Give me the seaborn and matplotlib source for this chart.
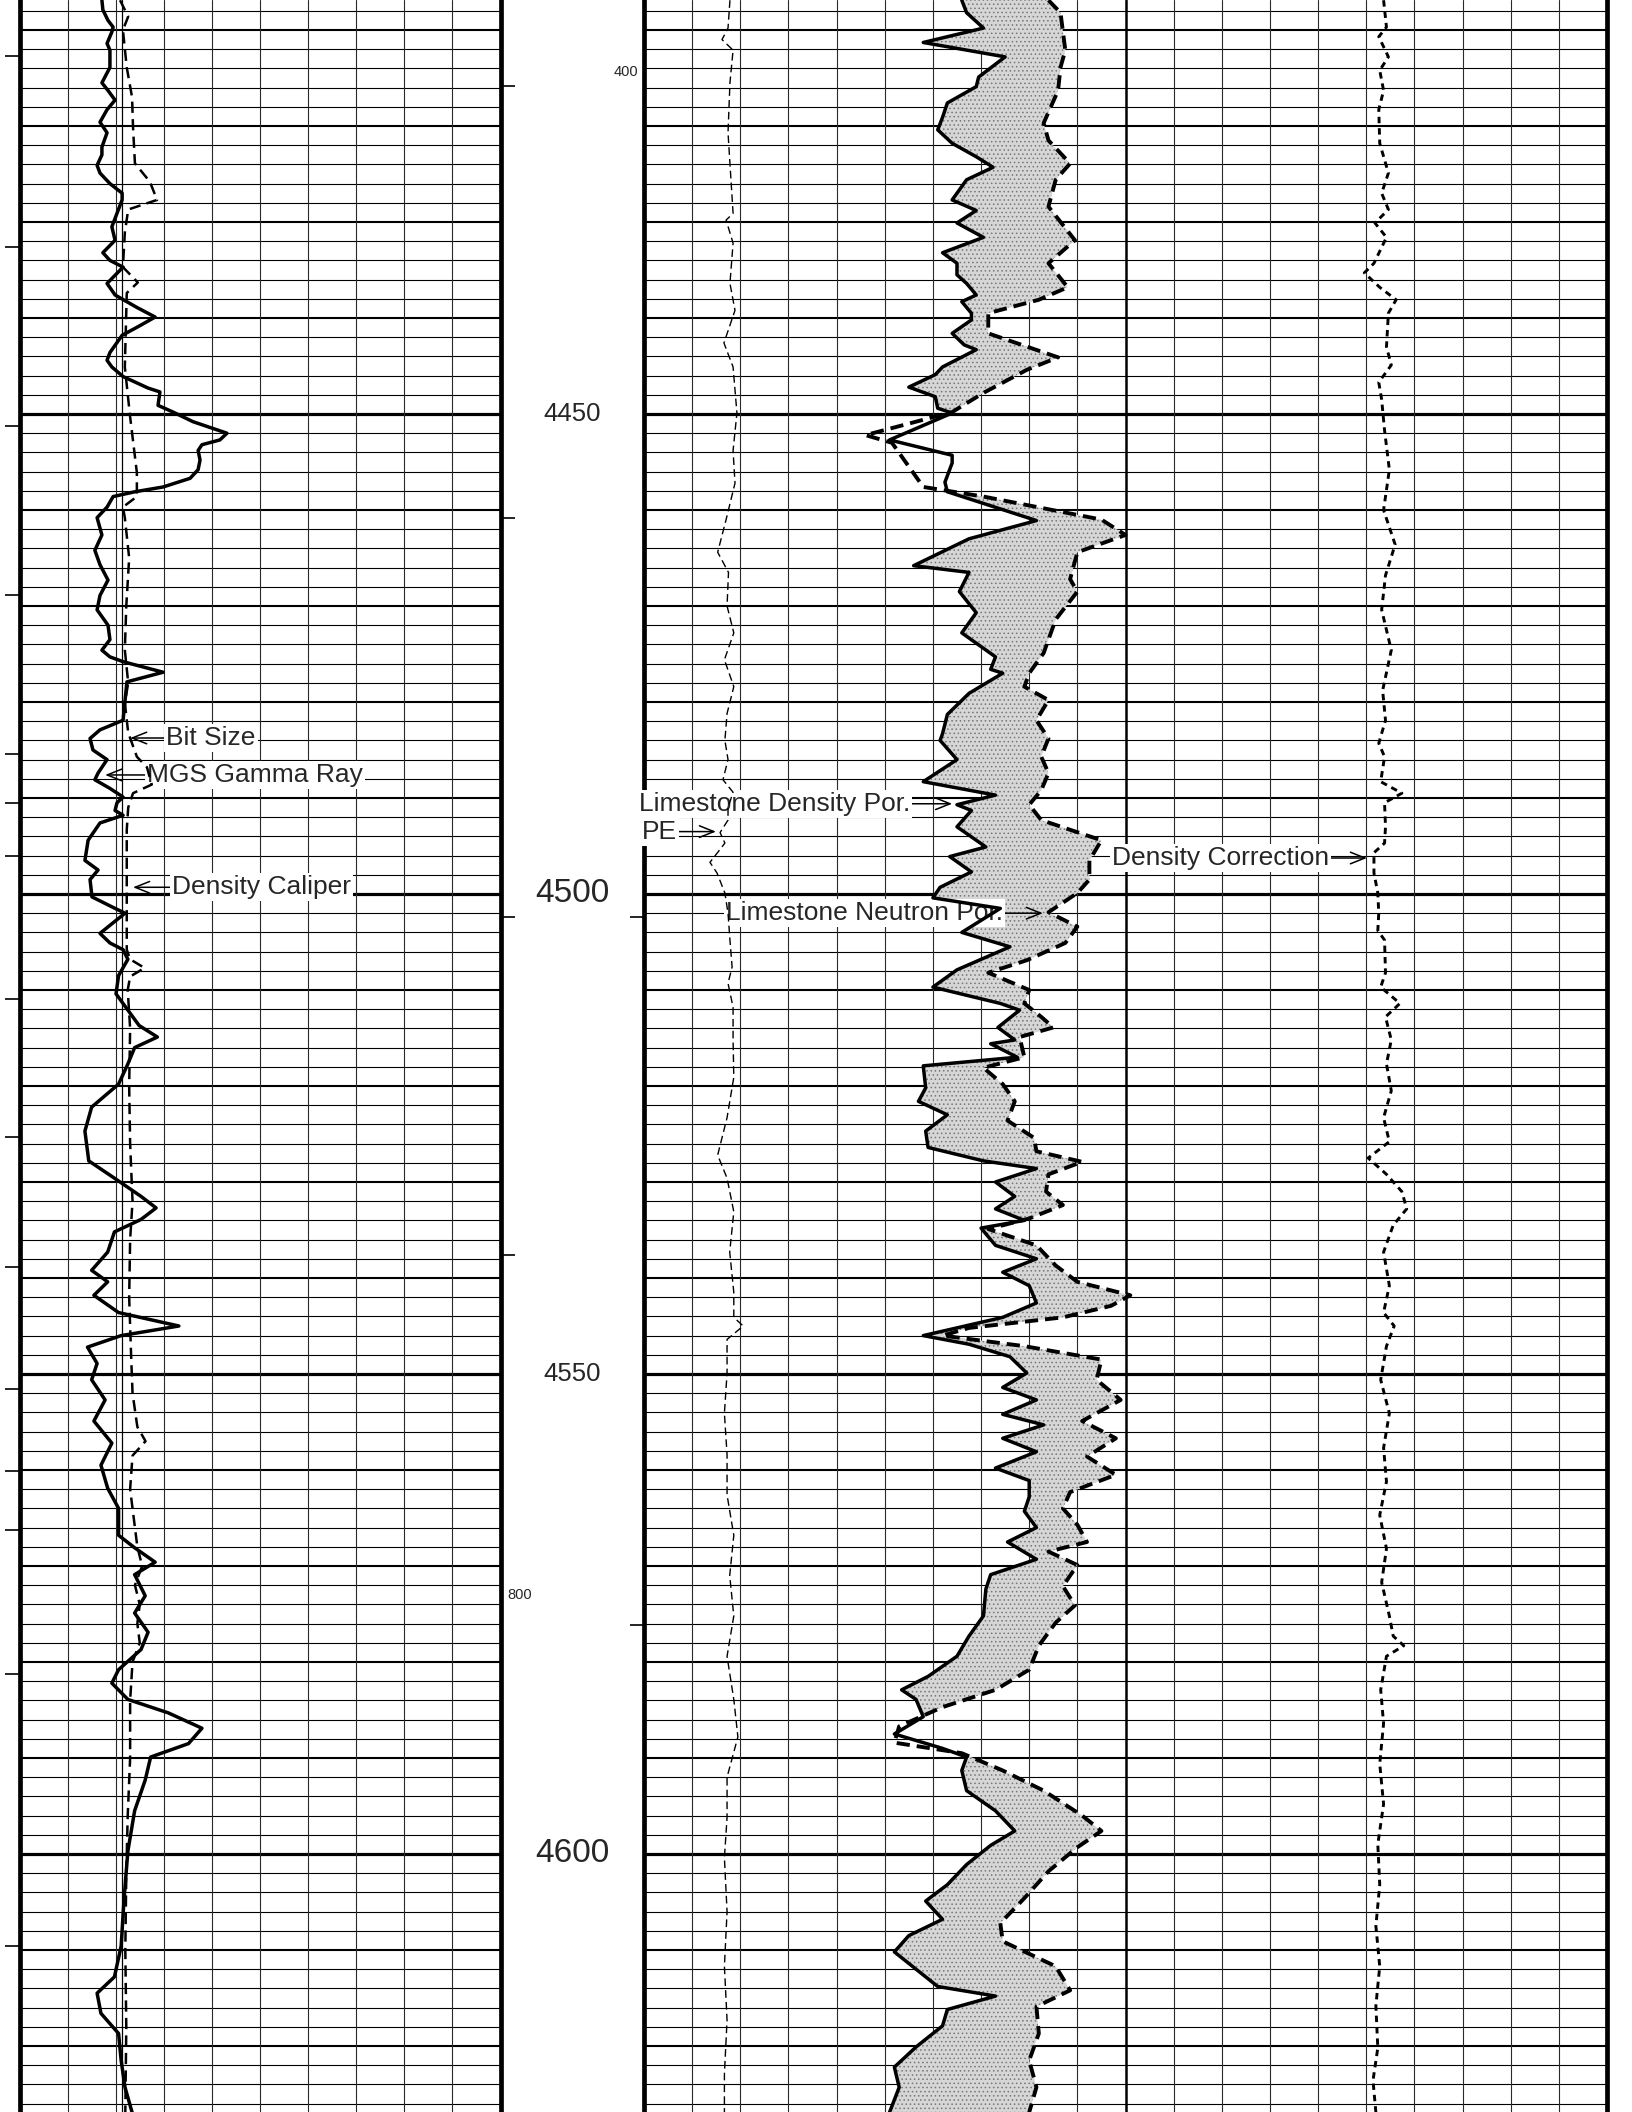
import numpy as np
import matplotlib
matplotlib.use("Agg")
import matplotlib.pyplot as plt
import seaborn as sns

sns.set_theme(style="white")
plt.rcParams["font.family"] = ["Liberation Sans", "DejaVu Sans"]
plt.rcParams["hatch.linewidth"] = 0.6

TOP, BASE = 4406.875, 4626.875

# ---------------- Track 1: gamma ray (API) ----------------
gr_depth = [4406.9, 4407.9, 4409.0, 4409.7, 4410.2, 4411.4, 4412.1, 4413.9, 4415.5, 4416.3,
            4417.3, 4418.3, 4419.6, 4420.7, 4422.2, 4423.0, 4424.1, 4424.9, 4426.0, 4427.0,
            4427.7, 4429.1, 4430.5, 4431.9, 4433.2, 4434.0, 4434.7, 4436.4, 4437.6, 4438.9,
            4439.9, 4440.9, 4441.8, 4443.6, 4444.4, 4445.1, 4446.1, 4447.3, 4447.7, 4449.1,
            4449.8, 4450.8, 4452.0, 4452.7, 4453.2, 4453.8, 4454.8, 4455.8, 4456.7, 4457.6,
            4458.1, 4458.6, 4459.7, 4460.8, 4462.6, 4464.2, 4465.7, 4467.3, 4468.9, 4470.4,
            4472.0, 4473.5, 4474.6, 4475.3, 4475.8, 4476.9, 4477.9, 4481.9, 4482.9, 4483.8,
            4485.0, 4486.0, 4487.4, 4488.1, 4489.0, 4489.9, 4490.5, 4491.3, 4491.8, 4492.6,
            4494.4, 4496.5, 4497.5, 4498.5, 4500.3, 4501.4, 4502.0, 4503.0, 4504.1, 4505.1,
            4505.8, 4506.8, 4508.5, 4510.4, 4512.1, 4513.7, 4514.9, 4516.0, 4517.7, 4519.8,
            4522.2, 4524.7, 4527.8, 4529.6, 4531.5, 4532.7, 4533.9, 4535.2, 4537.3, 4539.2,
            4540.4, 4541.8, 4543.6, 4545.0, 4546.0, 4547.2, 4548.9, 4550.6, 4552.7, 4554.9,
            4557.2, 4559.5, 4561.9, 4564.0, 4566.8, 4568.1, 4569.6, 4570.9, 4573.1, 4574.9,
            4576.9, 4578.7, 4580.8, 4582.2, 4583.9, 4585.3, 4586.9, 4588.5, 4589.9, 4592.3,
            4595.5, 4599.7, 4604.7, 4609.6, 4612.8, 4614.5, 4616.6, 4618.7, 4621.5, 4624.3,
            4626.9]
gr_api = [25.7, 26.0, 27.6, 29.2, 28.8, 27.3, 28.2, 28.2, 25.7, 27.6,
          29.8, 27.3, 25.1, 27.3, 25.7, 25.7, 24.2, 25.1, 28.2, 32.0,
          32.0, 30.4, 28.8, 29.8, 26.0, 28.2, 32.3, 27.3, 29.8, 36.6,
          42.3, 37.0, 32.0, 28.2, 27.3, 28.8, 32.3, 40.1, 43.8, 43.2,
          47.9, 54.1, 64.7, 62.5, 56.9, 55.7, 56.3, 55.7, 53.2, 44.8,
          36.0, 29.2, 27.3, 24.2, 25.7, 23.5, 25.1, 27.6, 25.1, 24.2,
          27.6, 28.2, 25.7, 28.2, 32.3, 44.8, 33.5, 32.3, 25.1, 22.0,
          22.9, 27.3, 24.5, 23.5, 28.2, 32.3, 30.4, 29.8, 32.3, 25.1,
          21.4, 20.4, 24.5, 22.0, 22.6, 29.2, 32.9, 29.2, 25.1, 28.2,
          32.3, 33.8, 30.9, 30.1, 33.8, 37.3, 43.0, 35.9, 33.8, 30.9,
          22.5, 20.4, 21.6, 29.6, 37.9, 42.6, 37.9, 29.6, 27.5, 22.5,
          27.5, 23.2, 30.9, 49.7, 31.7, 21.2, 24.2, 22.5, 26.7, 23.2,
          28.8, 25.4, 27.5, 30.9, 30.9, 35.9, 42.3, 35.9, 39.2, 35.9,
          40.1, 37.9, 30.9, 28.8, 33.8, 46.4, 56.9, 52.7, 40.9, 39.2,
          35.9, 33.8, 32.6, 31.7, 29.6, 24.2, 25.4, 30.9, 31.7, 32.9,
          35.1]

# Density caliper and bit size (in)
cal_depth = [4406.9, 4408.6, 4410.0, 4413.9, 4417.0, 4420.1, 4423.9, 4425.8, 4427.7, 4428.7,
             4431.1, 4434.7, 4436.3, 4437.4, 4445.1, 4450.3, 4456.1, 4458.6, 4459.7, 4460.8,
             4465.0, 4470.0, 4474.6, 4478.0, 4480.1, 4483.2, 4485.7, 4486.8, 4488.6, 4489.5,
             4491.0, 4493.3, 4505.8, 4506.8, 4507.7, 4508.6, 4510.0, 4514.0, 4520.0, 4526.0,
             4532.0, 4536.0, 4542.0, 4548.0, 4552.0, 4555.5, 4557.0, 4558.5, 4562.0, 4566.0,
             4568.0, 4570.0, 4572.0, 4574.0, 4576.0, 4578.0, 4580.0, 4584.0, 4590.0, 4596.0,
             4602.0, 4610.0, 4618.0, 4626.9]
cal_in = [8.09, 8.26, 8.15, 8.23, 8.34, 8.36, 8.40, 8.71, 8.86, 8.26,
          8.19, 8.15, 8.46, 8.23, 8.19, 8.30, 8.44, 8.44, 8.15, 8.19,
          8.28, 8.22, 8.19, 8.26, 8.19, 8.26, 8.44, 8.65, 8.75, 8.36,
          8.26, 8.23, 8.23, 8.30, 8.60, 8.30, 8.25, 8.30, 8.28, 8.30,
          8.35, 8.30, 8.28, 8.32, 8.35, 8.45, 8.62, 8.35, 8.30, 8.40,
          8.45, 8.55, 8.40, 8.50, 8.45, 8.50, 8.35, 8.30, 8.30, 8.25,
          8.22, 8.20, 8.22, 8.20]
bit_size_in = 8.125

# ---------------- Tracks 2-3: porosity (v/v, limestone matrix) ----------------
dphi_depth = [4406.9, 4408.2, 4409.8, 4411.3, 4412.8, 4414.9, 4415.9, 4417.6, 4419.1, 4420.4,
              4421.8, 4423.2, 4424.3, 4425.6, 4427.7, 4428.8, 4430.1, 4431.6, 4433.2, 4434.3,
              4435.5, 4436.4, 4437.6, 4438.3, 4439.5, 4440.2, 4441.6, 4442.8, 4443.3, 4445.1,
              4445.9, 4447.2, 4448.2, 4449.4, 4449.9, 4452.7, 4454.3, 4455.1, 4457.1, 4458.1,
              4461.1, 4463.0, 4465.8, 4466.5, 4468.5, 4470.7, 4472.8, 4475.3, 4476.6, 4477.0,
              4479.1, 4481.3, 4483.3, 4484.0, 4486.0, 4488.3, 4489.7, 4490.7, 4491.3, 4493.0,
              4495.1, 4496.1, 4497.7, 4499.3, 4500.4, 4501.5, 4504.0, 4505.5, 4507.9, 4509.7,
              4511.4, 4512.1, 4513.9, 4515.2, 4515.6, 4517.0, 4517.9, 4520.2, 4521.6, 4523.0,
              4524.7, 4526.4, 4527.8, 4528.6, 4530.0, 4531.5, 4532.8, 4534.0, 4534.8, 4536.6,
              4538.0, 4539.4, 4540.8, 4542.6, 4544.1, 4546.0, 4546.9, 4548.2, 4549.9, 4551.4,
              4552.7, 4554.2, 4555.3, 4556.7, 4558.1, 4559.8, 4561.1, 4562.8, 4564.3, 4566.0,
              4567.5, 4569.3, 4570.9, 4572.4, 4575.2, 4577.3, 4579.4, 4581.5, 4582.9, 4583.9,
              4585.7, 4587.5, 4589.0, 4589.9, 4591.3, 4593.4, 4595.5, 4597.6, 4599.1, 4601.1,
              4603.2, 4604.9, 4606.8, 4608.5, 4610.2, 4612.0, 4613.8, 4614.8, 4616.2, 4617.9,
              4620.1, 4622.2, 4624.3, 4626.9]
dphi = [0.168, 0.166, 0.159, 0.184, 0.150, 0.161, 0.162, 0.174, 0.176, 0.178,
        0.172, 0.162, 0.155, 0.166, 0.172, 0.162, 0.170, 0.159, 0.176, 0.170,
        0.170, 0.166, 0.162, 0.168, 0.164, 0.164, 0.172, 0.167, 0.162, 0.176,
        0.179, 0.190, 0.179, 0.178, 0.172, 0.198, 0.172, 0.172, 0.175, 0.174,
        0.137, 0.165, 0.188, 0.165, 0.169, 0.162, 0.168, 0.154, 0.156, 0.151,
        0.165, 0.174, 0.176, 0.177, 0.170, 0.184, 0.154, 0.170, 0.164, 0.170,
        0.158, 0.173, 0.164, 0.177, 0.180, 0.152, 0.168, 0.148, 0.170, 0.180,
        0.152, 0.144, 0.153, 0.146, 0.156, 0.145, 0.184, 0.183, 0.186, 0.174,
        0.183, 0.182, 0.159, 0.137, 0.154, 0.146, 0.154, 0.142, 0.160, 0.154,
        0.137, 0.151, 0.140, 0.137, 0.151, 0.184, 0.165, 0.148, 0.141, 0.151,
        0.137, 0.151, 0.134, 0.151, 0.137, 0.154, 0.140, 0.140, 0.142, 0.137,
        0.149, 0.137, 0.156, 0.158, 0.159, 0.165, 0.170, 0.182, 0.193, 0.187,
        0.184, 0.196, 0.176, 0.166, 0.168, 0.166, 0.154, 0.146, 0.156, 0.166,
        0.174, 0.183, 0.176, 0.190, 0.196, 0.187, 0.178, 0.154, 0.174, 0.176,
        0.187, 0.196, 0.194, 0.198]

nphi_depth = [4406.9, 4408.2, 4412.1, 4413.9, 4416.3, 4419.7, 4421.5, 4423.9, 4425.6, 4428.4,
              4431.9, 4434.3, 4436.8, 4438.1, 4439.5, 4441.6, 4444.1, 4445.4, 4447.8, 4449.8,
              4451.4, 4452.2, 4453.0, 4457.6, 4458.6, 4461.0, 4462.6, 4464.4, 4467.2, 4468.5,
              4471.4, 4474.9, 4477.0, 4478.4, 4479.8, 4481.9, 4483.8, 4485.7, 4487.4, 4489.2,
              4490.7, 4492.3, 4493.9, 4494.4, 4496.5, 4498.5, 4499.9, 4501.9, 4503.4, 4505.1,
              4506.9, 4508.2, 4510.0, 4511.4, 4512.8, 4513.9, 4514.9, 4517.0, 4518.1, 4519.8,
              4521.6, 4523.6, 4525.4, 4526.8, 4527.9, 4529.2, 4531.0, 4532.4, 4533.8, 4534.9,
              4536.6, 4538.7, 4540.4, 4541.8, 4542.9, 4544.1, 4545.2, 4546.0, 4547.1, 4548.5,
              4550.6, 4552.7, 4554.9, 4556.7, 4558.6, 4560.5, 4562.3, 4564.0, 4565.7, 4567.5,
              4568.5, 4569.9, 4572.1, 4574.1, 4575.9, 4578.3, 4580.8, 4582.9, 4584.7, 4586.7,
              4588.4, 4589.5, 4591.3, 4593.4, 4596.0, 4597.6, 4599.3, 4601.8, 4604.6, 4607.2,
              4609.1, 4611.7, 4614.2, 4615.9, 4618.7, 4621.5, 4624.3, 4626.9]
nphi = [0.132, 0.127, 0.125, 0.127, 0.128, 0.134, 0.132, 0.123, 0.129, 0.132,
        0.121, 0.132, 0.124, 0.136, 0.157, 0.157, 0.128, 0.141, 0.159, 0.172,
        0.196, 0.208, 0.197, 0.184, 0.159, 0.110, 0.100, 0.120, 0.123, 0.120,
        0.129, 0.134, 0.140, 0.142, 0.132, 0.137, 0.132, 0.135, 0.132, 0.135,
        0.140, 0.135, 0.116, 0.110, 0.115, 0.115, 0.120, 0.132, 0.120, 0.125,
        0.141, 0.157, 0.140, 0.142, 0.135, 0.130, 0.144, 0.142, 0.159, 0.151,
        0.146, 0.149, 0.138, 0.137, 0.118, 0.132, 0.133, 0.126, 0.140, 0.157,
        0.137, 0.129, 0.120, 0.098, 0.106, 0.126, 0.165, 0.176, 0.142, 0.110,
        0.112, 0.102, 0.118, 0.104, 0.116, 0.104, 0.123, 0.126, 0.120, 0.116,
        0.132, 0.120, 0.126, 0.121, 0.129, 0.136, 0.140, 0.154, 0.176, 0.194,
        0.196, 0.168, 0.151, 0.134, 0.118, 0.110, 0.120, 0.132, 0.142, 0.152,
        0.151, 0.129, 0.123, 0.137, 0.136, 0.140, 0.137, 0.140]

# Photoelectric factor (b/e)
pe_depth = [4406.9, 4409.8, 4411.0, 4412.1, 4415.5, 4420.7, 4429.1, 4429.8, 4432.2, 4436.4,
            4439.2, 4442.6, 4445.1, 4449.9, 4453.8, 4457.2, 4461.0, 4464.4, 4466.5, 4470.0,
            4472.8, 4475.6, 4478.4, 4481.2, 4484.0, 4486.0, 4488.1, 4489.4, 4491.0, 4492.3,
            4493.6, 4494.7, 4496.7, 4497.8, 4499.9, 4502.0, 4504.8, 4507.6, 4509.3, 4511.8,
            4515.2, 4519.1, 4523.3, 4527.2, 4529.6, 4533.1, 4537.3, 4541.5, 4544.1, 4545.0,
            4546.4, 4549.9, 4554.1, 4558.4, 4562.6, 4566.8, 4571.0, 4575.2, 4579.4, 4583.9,
            4587.8, 4592.0, 4596.2, 4600.4, 4606.0, 4611.7, 4617.3, 4622.9, 4626.9]
pe = [3.57, 3.49, 3.24, 3.70, 3.57, 3.49, 3.70, 3.41, 3.70, 3.57,
      3.78, 3.32, 3.70, 3.86, 3.70, 3.78, 3.41, 3.06, 3.51, 3.45,
      3.73, 3.34, 3.73, 3.45, 3.36, 3.49, 3.28, 3.70, 3.49, 3.49,
      3.16, 3.36, 2.74, 3.03, 3.36, 3.49, 3.57, 3.66, 3.49, 3.70,
      3.70, 3.73, 3.45, 3.06, 3.45, 3.73, 3.56, 3.73, 3.73, 4.12,
      3.45, 3.45, 3.34, 3.45, 3.45, 3.73, 3.56, 3.73, 3.45, 3.73,
      3.90, 3.45, 3.45, 3.34, 3.45, 3.34, 3.45, 3.34, 3.34]

# Density correction (g/cc)
drho_depth = [4406.9, 4409.7, 4410.7, 4412.8, 4414.2, 4416.3, 4418.3, 4421.8, 4424.9, 4427.0,
              4428.7, 4430.1, 4431.6, 4434.3, 4435.3, 4436.8, 4438.1, 4439.5, 4443.0, 4444.9,
              4446.7, 4448.5, 4451.7, 4455.8, 4460.0, 4463.6, 4466.8, 4470.4, 4474.6, 4478.8,
              4481.9, 4484.3, 4485.7, 4488.3, 4489.5, 4490.5, 4493.0, 4494.7, 4495.7, 4497.8,
              4499.9, 4502.0, 4503.8, 4504.8, 4508.2, 4509.7, 4511.4, 4512.8, 4515.2, 4517.7,
              4520.5, 4523.3, 4525.8, 4527.5, 4529.2, 4531.0, 4532.8, 4534.5, 4537.3, 4540.8,
              4543.6, 4545.0, 4547.1, 4550.6, 4554.1, 4557.7, 4561.2, 4564.7, 4568.2, 4571.7,
              4575.2, 4577.3, 4578.3, 4579.4, 4582.9, 4586.4, 4590.6, 4594.8, 4599.0, 4603.2,
              4607.5, 4611.7, 4615.8, 4620.2, 4623.6, 4626.9]
drho = [0.018, 0.021, 0.013, 0.023, 0.014, 0.018, 0.013, 0.014, 0.023, 0.016,
        0.023, 0.009, 0.021, 0.008, -0.002, 0.014, 0.031, 0.023, 0.021, 0.026,
        0.013, 0.016, 0.019, 0.024, 0.018, 0.030, 0.020, 0.016, 0.026, 0.017,
        0.020, 0.013, 0.019, 0.015, 0.037, 0.019, 0.020, 0.019, 0.008, 0.008,
        0.012, 0.013, 0.012, 0.019, 0.020, 0.015, 0.035, 0.020, 0.026, 0.021,
        0.026, 0.018, 0.024, 0.002, 0.021, 0.037, 0.042, 0.028, 0.018, 0.024,
        0.018, 0.029, 0.021, 0.015, 0.024, 0.018, 0.021, 0.014, 0.021, 0.016,
        0.024, 0.028, 0.039, 0.021, 0.015, 0.018, 0.014, 0.018, 0.012, 0.014,
        0.010, 0.014, 0.010, 0.012, 0.007, 0.010]

# Depth annotation
depth_labels = [4450, 4500, 4550, 4600]
depth_label_sizes = [18.5, 24, 18.5, 24]
edge_marks = [4412.7, 4432.6, 4451.25, 4468.9, 4485.4, 4490.5, 4496.0, 4510.9, 4525.3,
              4538.9, 4551.6, 4560.1, 4566.2, 4581.2, 4609.6]
depth_marks_left = [4415.8, 4460.8, 4502.4, 4537.6]
depth_marks_right = [4502.4, 4576.1]
time_labels = [("400", 4414.4, "right"), ("800", 4573.0, "left")]

# ---------------- figure layout ----------------
W, H = 1632, 2112
fig = plt.figure(figsize=(W / 100, H / 100), dpi=100)
fig.patch.set_facecolor("white")
ax_gr = fig.add_axes([19.5 / W, 0, 481 / W, 1])
ax_dep = fig.add_axes([500.5 / W, 0, 143.5 / W, 1])
ax_por = fig.add_axes([644 / W, 0, 963 / W, 1])


def clean(ax):
    ax.set_xticks([])
    ax.set_yticks([])
    ax.set_xlabel("")
    ax.set_ylabel("")
    ax.set_ylim(BASE, TOP)
    ax.patch.set_alpha(0)


def depth_grid(ax):
    for d in np.arange(4408, 4627, 2):
        if d % 50 == 0:
            lw = 2.3
        elif d % 10 == 0:
            lw = 1.5
        else:
            lw = 0.8
        ax.axhline(d, color="black", lw=lw, zorder=0.5)


for ax in (ax_gr, ax_dep, ax_por):
    clean(ax)
    for s in ax.spines.values():
        s.set_visible(False)

# Track 1 grid and frame
ax_gr.set_xlim(0, 150)
depth_grid(ax_gr)
for k in range(1, 10):
    ax_gr.axvline(15 * k, color="#2a2a2a", lw=0.8, zorder=0.5)
for side in ("left", "right"):
    ax_gr.spines[side].set_visible(True)
    ax_gr.spines[side].set_linewidth(3.4)
    ax_gr.spines[side].set_color("black")
    ax_gr.spines[side].set_zorder(1)

# Tracks 2-3 grid and frame
ax_por.set_xlim(0.30, -0.10)
depth_grid(ax_por)
for k in range(1, 20):
    v = 0.30 - 0.02 * k
    lw = 1.8 if k == 10 else 0.8
    ax_por.axvline(v, color="#2a2a2a" if k != 10 else "black", lw=lw, zorder=0.5)
for side in ("left", "right"):
    ax_por.spines[side].set_visible(True)
    ax_por.spines[side].set_linewidth(3.4)
    ax_por.spines[side].set_color("black")
    ax_por.spines[side].set_zorder(1)

# ---------------- curves ----------------
sns.lineplot(x=gr_api, y=gr_depth, orient="y", ax=ax_gr, color="black",
             lw=2.5, estimator=None, zorder=3)

ax_cal = ax_gr.twiny()
ax_cal.set_xlim(6, 16)
ax_cal.axvline(bit_size_in, color="black", lw=0.9, zorder=3)
sns.lineplot(x=cal_in, y=cal_depth, orient="y", ax=ax_cal, color="black",
             lw=1.8, linestyle=(0, (4.5, 2.5)), estimator=None, zorder=3)

# shading where density porosity exceeds neutron porosity
grid_d = np.linspace(TOP, BASE, 4000)
d_i = np.interp(grid_d, dphi_depth, dphi)
n_i = np.interp(grid_d, nphi_depth, nphi)
ax_por.fill_betweenx(grid_d, d_i, n_i, where=d_i > n_i, interpolate=True,
                     facecolor="#d6d6d6", edgecolor="#777777", hatch="....",
                     lw=0, zorder=1.2)
sns.lineplot(x=dphi, y=dphi_depth, orient="y", ax=ax_por, color="black",
             lw=2.5, estimator=None, zorder=3)
sns.lineplot(x=nphi, y=nphi_depth, orient="y", ax=ax_por, color="black",
             lw=2.8, linestyle=(0, (3.4, 1.8)), estimator=None, zorder=3)

ax_pe = ax_por.twiny()
ax_pe.set_xlim(0, 40)
sns.lineplot(x=pe, y=pe_depth, orient="y", ax=ax_pe, color="black",
             lw=1.0, linestyle=(0, (5.5, 3)), estimator=None, zorder=3)

ax_dc = ax_por.twiny()
ax_dc.set_xlim(-0.75, 0.25)
sns.lineplot(x=drho, y=drho_depth, orient="y", ax=ax_dc, color="black",
             lw=2.1, linestyle=(0, (2.2, 1.7)), estimator=None, zorder=3)

for ax in (ax_cal, ax_pe, ax_dc):
    clean(ax)
    for s in ax.spines.values():
        s.set_visible(False)
for ax in (ax_gr, ax_por):
    ax.set_xlabel("")
    ax.set_ylabel("")
    ax.set_xticks([])
    ax.set_yticks([])

# ---------------- depth track ----------------
ax_dep.set_xlim(0, 1)
for lab, size in zip(depth_labels, depth_label_sizes):
    ax_dep.text(0.5, lab, str(lab), ha="center", va="center", fontsize=size, zorder=3)
for d in depth_marks_left:
    ax_dep.plot([0, 0.1], [d, d], color="black", lw=1.2, solid_capstyle="butt")
for d in depth_marks_right:
    ax_dep.plot([0.9, 1.0], [d, d], color="black", lw=1.2, solid_capstyle="butt")
for txt, d, ha in time_labels:
    ax_dep.text(0.958 if ha == "right" else 0.045, d, txt, ha=ha, va="center", fontsize=10.5)
edge_tr = ax_gr.get_yaxis_transform()
for d in edge_marks:
    ax_gr.plot([-0.03, 0.0], [d, d], transform=edge_tr, color="black", lw=1.2,
               clip_on=False, solid_capstyle="butt")

# ---------------- curve labels ----------------
box = dict(boxstyle="square,pad=0.08", fc="white", ec="none")
arrow = dict(arrowstyle="->,head_length=0.55,head_width=0.22", color="black",
             lw=1.1, shrinkA=0, shrinkB=0)

left_labels = [("Bit Size", 34.5, 45.7, 4483.75),
               ("MGS Gamma Ray", 26.7, 39.8, 4487.6),
               ("Density Caliper", 35.4, 47.6, 4499.3)]
for txt, x_to, x_txt, d in left_labels:
    ax_gr.annotate(txt, xy=(x_to, d), xytext=(x_txt, d), ha="left", va="center",
                   fontsize=19, bbox=box, arrowprops=arrow, zorder=2.2,
                   annotation_clip=False)

right_labels = [("Limestone Density Por.", 0.172, 0.1895, 4490.6),
                ("PE", 0.2701, 0.2863, 4493.5),
                ("Limestone Neutron Por.", 0.1343, 0.1509, 4502.0),
                ("Density Correction", -0.0003, 0.0154, 4496.25)]
for txt, x_to, x_txt, d in right_labels:
    ax_por.annotate(txt, xy=(x_to, d), xytext=(x_txt, d), ha="right", va="center",
                    fontsize=19, bbox=box, arrowprops=arrow, zorder=2.2,
                    annotation_clip=False)

fig.savefig("out.png", dpi=100, facecolor="white")
